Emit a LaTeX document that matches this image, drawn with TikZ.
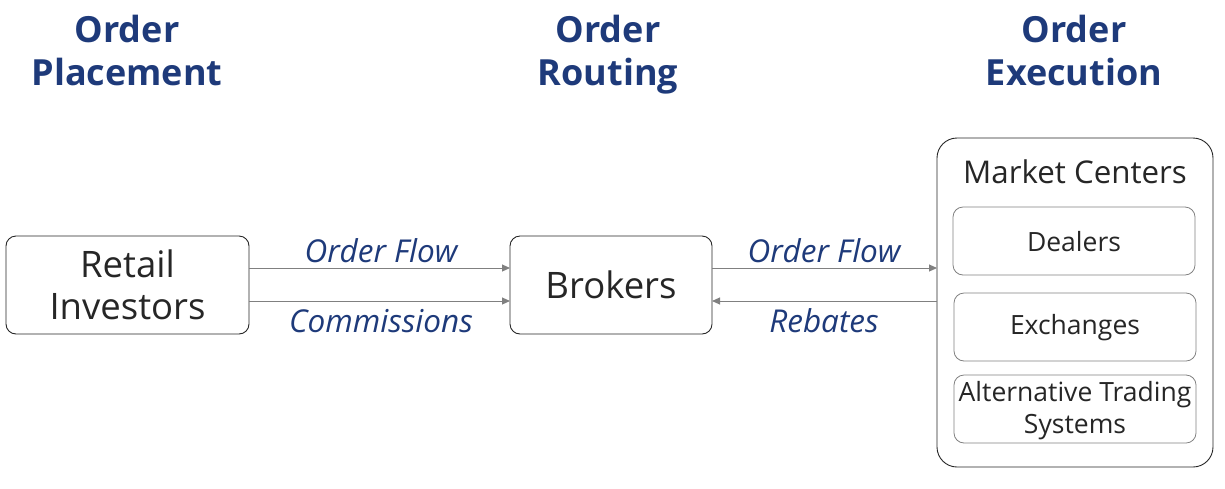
\documentclass[tikz,border=0pt]{standalone}
\usepackage{fontspec}
\setmainfont{Open Sans}
\usetikzlibrary{arrows.meta}
\definecolor{hdr}{RGB}{30,58,122}
\definecolor{lbl}{RGB}{30,58,122}
\definecolor{arr}{RGB}{128,128,128}
\tikzset{
  mainbox/.style={draw=black!85, line width=0.9pt, rounded corners=10pt},
  innerbox/.style={draw=black!50, line width=0.8pt, rounded corners=10pt},
  header/.style={text=hdr, font=\fontsize{36}{43}\selectfont\bfseries, align=center},
  flowlbl/.style={text=lbl, font=\fontsize{31.5}{36}\selectfont\itshape},
  flow/.style={draw=arr, line width=1pt, -{Triangle[length=8pt,width=7pt]}},
  bigtxt/.style={font=\fontsize{36.5}{42}\selectfont, text=black!85},
  midtxt/.style={font=\fontsize{31.3}{36}\selectfont, text=black!85},
  smalltxt/.style={font=\fontsize{26.5}{32}\selectfont, text=black!85},
}
\begin{document}
\begin{tikzpicture}[x=1pt,y=-1pt]
\useasboundingbox (0,0) rectangle (1225,488);
% headers
\node[header] (h1) at (127,55.5) {\strut Order\\\strut Placement};
\node[header] (h2) at (608,55.5) {\strut Order\\\strut Routing};
\node[header] (h3) at (1074,55.5) {\strut Order\\\strut Execution};
% boxes
\draw[mainbox] (6,236) rectangle (249,334);
\node[bigtxt, align=center] (ri) at (127.5,285) {Retail\\Investors};
\coordinate (riE1) at (249,268);
\coordinate (riE2) at (249,301);
\draw[mainbox] (510,236) rectangle (712,334);
\node[bigtxt] (br) at (611,285) {Brokers};
\coordinate (brW1) at (510,268);
\coordinate (brW2) at (510,301);
\coordinate (brE1) at (712,268);
\coordinate (brE2) at (712,301);
\draw[mainbox, rounded corners=20pt] (937,138) rectangle (1213,467);
\coordinate (mcW1) at (937,268);
\coordinate (mcW2) at (937,301);
\node[midtxt] (mc) at (1075,172) {Market Centers};
\draw[innerbox] (953,207) rectangle (1195,275);
\node[smalltxt] (dl) at (1074,241.5) {Dealers};
\draw[innerbox] (954,293) rectangle (1196,361);
\node[smalltxt] (ex) at (1075,328) {Exchanges};
\draw[innerbox] (954,375) rectangle (1196,443);
\node[smalltxt, align=center] (ats) at (1075,410.5) {Alternative Trading\\Systems};
% arrows
\draw[flow] (riE1) -- (brW1);
\draw[flow] (riE2) -- (brW2);
\draw[flow] (brE1) -- (mcW1);
\draw[flow] (mcW2) -- (brE2);
% labels
\node[flowlbl] (l1) at (381,251) {Order Flow};
\node[flowlbl] (l2) at (381,321) {Commissions};
\node[flowlbl] (l3) at (824,251) {Order Flow};
\node[flowlbl] (l4) at (824,321) {Rebates};
\end{tikzpicture}
\end{document}
